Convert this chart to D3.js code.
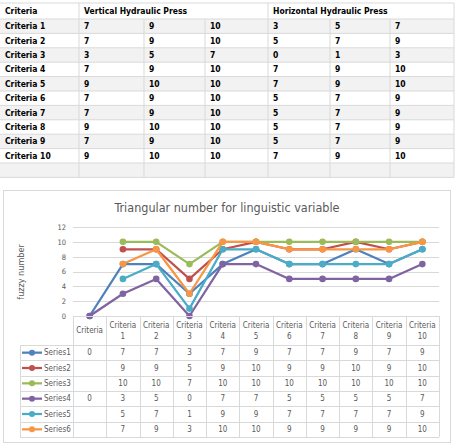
<!DOCTYPE html>
<html>
<head>
<meta charset="utf-8">
<script src="https://cdn.jsdelivr.net/npm/d3@7/dist/d3.min.js"></script>
<style>
  body { margin: 0; background: #fff; }
  svg { display: block; }
</style>
</head>
<body>
<svg id="page" width="456" height="446"></svg>
<script>
'use strict';

// source table
const criteria = ['Criteria 1', 'Criteria 2', 'Criteria 3', 'Criteria 4', 'Criteria 5',
  'Criteria 6', 'Criteria 7', 'Criteria 8', 'Criteria 9', 'Criteria 10'];
const verticalPress = [[7, 9, 10], [7, 9, 10], [3, 5, 7], [7, 9, 10], [9, 10, 10],
  [7, 9, 10], [7, 9, 10], [9, 10, 10], [7, 9, 10], [9, 10, 10]];
const horizontalPress = [[3, 5, 7], [5, 7, 9], [0, 1, 3], [7, 9, 10], [7, 9, 10],
  [5, 7, 9], [5, 7, 9], [5, 7, 9], [5, 7, 9], [7, 9, 10]];

// chart data
const chartTitle = 'Triangular number for linguistic variable';
const yTitle = 'fuzzy number';
const categories = ['Criteria', 'Criteria 1', 'Criteria 2', 'Criteria 3', 'Criteria 4', 'Criteria 5',
  'Criteria 6', 'Criteria 7', 'Criteria 8', 'Criteria 9', 'Criteria 10'];
const seriesNames = ['Series1', 'Series2', 'Series3', 'Series4', 'Series5', 'Series6'];
const series1 = [0, 7, 7, 3, 7, 9, 7, 7, 9, 7, 9];
const series2 = [null, 9, 9, 5, 9, 10, 9, 9, 10, 9, 10];
const series3 = [null, 10, 10, 7, 10, 10, 10, 10, 10, 10, 10];
const series4 = [0, 3, 5, 0, 7, 7, 5, 5, 5, 5, 7];
const series5 = [null, 5, 7, 1, 9, 9, 7, 7, 7, 7, 9];
const series6 = [null, 7, 9, 3, 10, 10, 9, 9, 9, 9, 10];
const yTicks = [0, 2, 4, 6, 8, 10, 12];

const seriesValues = [series1, series2, series3, series4, series5, series6];
const colors = ['#4f81bd', '#c0504d', '#9bbb59', '#8064a2', '#4bacc6', '#f79646'];

const svg = d3.select('#page');
const FONT = '"DejaVu Sans Condensed", "DejaVu Sans", sans-serif';
const GRID = '#d9d9d9';
const TEXT = '#595959';

function drawSourceTable() {
  const cols = [0, 79, 144, 205, 268, 330, 390, 454];
  const headTop = 3, headBottom = 19, rowH = 14.4;
  const rows = criteria.map((c, i) => [c].concat(verticalPress[i], horizontalPress[i]));
  rows.push(['', '', '', '', '', '', '']); // empty trailing row
  const g = svg.append('g').attr('font-family', FONT).attr('font-weight', 'bold').attr('font-size', 8.5);

  rows.forEach((row, i) => {
    const y0 = headBottom + i * rowH;
    if (i % 2 === 0) {
      g.append('rect').attr('x', 0).attr('y', y0).attr('width', 454).attr('height', rowH).attr('fill', '#f2f2f2');
    }
    row.forEach((v, j) => {
      g.append('text').attr('x', cols[j] + 5).attr('y', y0 + rowH / 2).attr('dy', '0.35em').text(v);
    });
  });

  const bottom = headBottom + rows.length * rowH;
  d3.range(rows.length + 2).forEach((i) => {
    const y = i === 0 ? headTop : headBottom + (i - 1) * rowH;
    g.append('line').attr('x1', 0).attr('x2', 454).attr('y1', y).attr('y2', y)
      .attr('stroke', GRID).attr('stroke-width', 1);
  });
  cols.slice(1).forEach((x) => {
    const full = x === 79 || x === 268 || x === 454;
    g.append('line').attr('x1', x).attr('x2', x).attr('y1', full ? headTop : headBottom).attr('y2', bottom)
      .attr('stroke', GRID).attr('stroke-width', 1);
  });

  g.append('text').attr('x', 5).attr('y', (headTop + headBottom) / 2).attr('dy', '0.35em').text('Criteria');
  g.append('text').attr('x', 84).attr('y', (headTop + headBottom) / 2).attr('dy', '0.35em').text('Vertical Hydraulic Press');
  g.append('text').attr('x', 273).attr('y', (headTop + headBottom) / 2).attr('dy', '0.35em').text('Horizontal Hydraulic Press');
}

function drawChart() {
  const g = svg.append('g').attr('font-family', FONT);

  g.append('rect').attr('x', 3.5).attr('y', 190.5).attr('width', 447).attr('height', 252)
    .attr('fill', '#fff').attr('stroke', GRID);

  g.append('text').attr('x', 227).attr('y', 212).attr('text-anchor', 'middle')
    .attr('font-size', 12.5).attr('fill', TEXT).text(chartTitle);

  const x = d3.scaleBand().domain(categories).range([73, 439]).paddingInner(0);
  const y = d3.scaleLinear().domain([0, 12]).range([316, 227]);
  const cx = (c) => x(c) + x.bandwidth() / 2;

  // gridlines
  g.append('g').selectAll('line').data(yTicks).join('line')
    .attr('x1', 73).attr('x2', 439)
    .attr('y1', d => Math.round(y(d)) + 0.5).attr('y2', d => Math.round(y(d)) + 0.5)
    .attr('stroke', GRID);

  const yAxis = g.append('g').attr('transform', 'translate(73,0)')
    .call(d3.axisLeft(y).tickValues(yTicks).tickSize(0).tickPadding(7));
  yAxis.select('.domain').remove();
  yAxis.selectAll('text').attr('font-family', FONT).attr('font-size', 7.5).attr('fill', TEXT);

  g.append('text').attr('transform', 'translate(24,272) rotate(-90)').attr('text-anchor', 'middle')
    .attr('font-size', 9).attr('fill', TEXT).text(yTitle);

  // lines and markers
  const line = d3.line().defined(d => d.v !== null).x(d => cx(d.c)).y(d => y(d.v));
  seriesValues.forEach((vals, s) => {
    const pts = vals.map((v, i) => ({c: categories[i], v: v}));
    const sg = g.append('g');
    sg.append('path').attr('d', line(pts)).attr('fill', 'none')
      .attr('stroke', colors[s]).attr('stroke-width', 2.25).attr('stroke-linejoin', 'round');
    sg.selectAll('circle').data(pts.filter(d => d.v !== null)).join('circle')
      .attr('cx', d => cx(d.c)).attr('cy', d => y(d.v)).attr('r', 3.3).attr('fill', colors[s]);
  });

  // data table under the axis
  const headTop = 316, headBottom = 345;
  const rowY = d3.scaleBand().domain(seriesNames).range([headBottom, 437]);
  const tg = g.append('g').attr('font-size', 8).attr('fill', TEXT);

  categories.forEach((c) => {
    const parts = c.split(' ');
    const t = tg.append('text').attr('x', cx(c)).attr('text-anchor', 'middle');
    if (parts.length === 1) {
      t.attr('y', (headTop + headBottom) / 2).attr('dy', '0.35em').text(c);
    } else {
      t.append('tspan').attr('x', cx(c)).attr('y', 325).attr('dy', '0.35em').text(parts[0]);
      t.append('tspan').attr('x', cx(c)).attr('y', 336).attr('dy', '0.35em').text(parts[1]);
    }
  });

  seriesNames.forEach((name, s) => {
    const yc = rowY(name) + rowY.bandwidth() / 2;
    tg.append('line').attr('x1', 22).attr('x2', 42).attr('y1', yc).attr('y2', yc)
      .attr('stroke', colors[s]).attr('stroke-width', 2.25);
    tg.append('circle').attr('cx', 32).attr('cy', yc).attr('r', 3).attr('fill', colors[s]);
    tg.append('text').attr('x', 44).attr('y', yc).attr('dy', '0.35em').text(name);
    seriesValues[s].forEach((v, i) => {
      if (v === null) return;
      tg.append('text').attr('x', cx(categories[i])).attr('y', yc).attr('dy', '0.35em')
        .attr('text-anchor', 'middle').text(v);
    });
  });

  // table rules
  const hLines = [headTop].concat(seriesNames.map(n => rowY(n)), [437]);
  hLines.forEach((yy, i) => {
    tg.append('line').attr('x1', i === 0 ? 73 : 20).attr('x2', 439)
      .attr('y1', Math.round(yy) + 0.5).attr('y2', Math.round(yy) + 0.5).attr('stroke', GRID);
  });
  categories.map(c => x(c)).concat([439]).forEach((xx) => {
    tg.append('line').attr('x1', Math.round(xx) + 0.5).attr('x2', Math.round(xx) + 0.5)
      .attr('y1', headTop).attr('y2', 437).attr('stroke', GRID);
  });
  tg.append('line').attr('x1', 20.5).attr('x2', 20.5).attr('y1', headBottom).attr('y2', 437).attr('stroke', GRID);
}

drawSourceTable();
drawChart();
</script>
</body>
</html>
